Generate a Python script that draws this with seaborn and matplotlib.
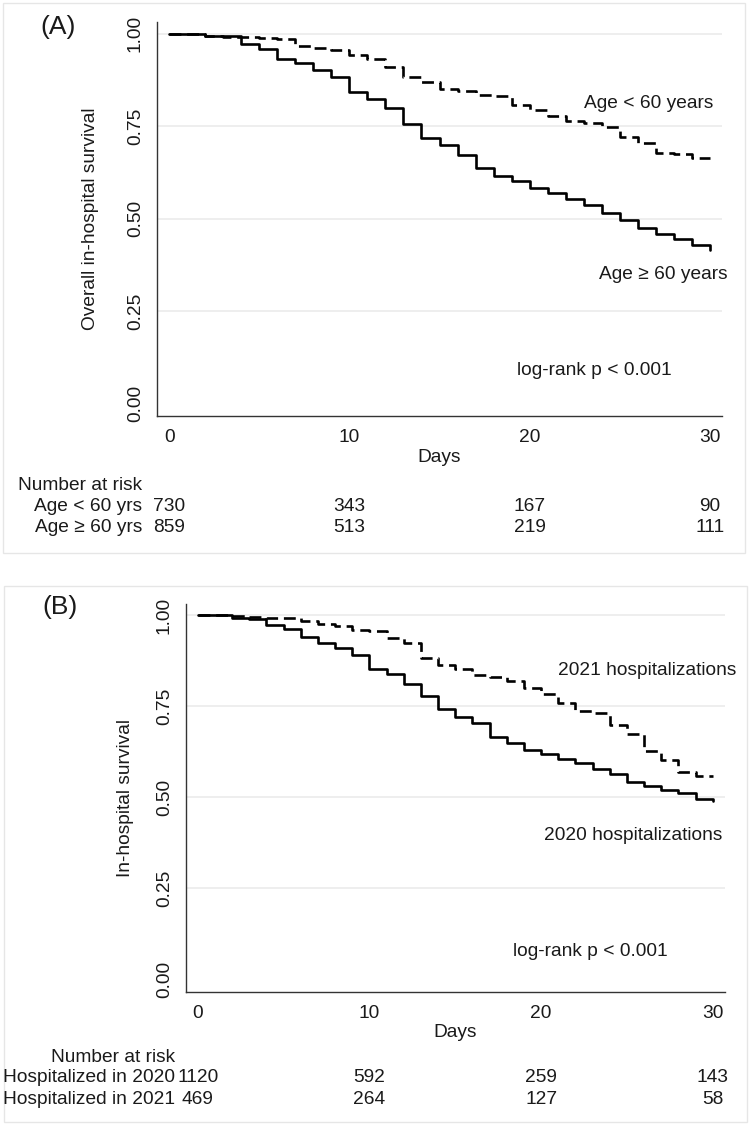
import matplotlib
matplotlib.use("Agg")
import matplotlib.pyplot as plt
import matplotlib.transforms as mtransforms
from matplotlib.patches import Rectangle
import seaborn as sns
import pandas as pd

# Kaplan-Meier estimates, one value per day (step after)
days = list(range(31))

age_lt60 = [1.0, 1.0, 0.993, 0.991, 0.991, 0.988, 0.985, 0.966, 0.962, 0.955, 0.944,
            0.933, 0.911, 0.884, 0.870, 0.850, 0.846, 0.834, 0.831, 0.807, 0.794,
            0.778, 0.765, 0.760, 0.749, 0.722, 0.706, 0.677, 0.675, 0.664, 0.664]
age_ge60 = [1.0, 1.0, 0.994, 0.994, 0.972, 0.960, 0.933, 0.921, 0.903, 0.882, 0.843,
            0.823, 0.800, 0.755, 0.719, 0.700, 0.672, 0.637, 0.617, 0.601, 0.583,
            0.571, 0.554, 0.538, 0.517, 0.497, 0.475, 0.460, 0.445, 0.430, 0.416]

hosp_2021 = [1.0, 1.0, 0.998, 0.996, 0.991, 0.991, 0.985, 0.976, 0.970, 0.960, 0.956,
             0.938, 0.924, 0.882, 0.862, 0.852, 0.836, 0.830, 0.818, 0.800, 0.783,
             0.760, 0.738, 0.732, 0.698, 0.675, 0.627, 0.602, 0.569, 0.558, 0.558]
hosp_2020 = [1.0, 1.0, 0.993, 0.989, 0.974, 0.963, 0.939, 0.924, 0.910, 0.890, 0.853,
             0.838, 0.811, 0.777, 0.742, 0.720, 0.703, 0.666, 0.650, 0.631, 0.618,
             0.606, 0.593, 0.579, 0.565, 0.542, 0.531, 0.519, 0.513, 0.496, 0.489]

risk_days = [0, 10, 20, 30]
risk_a_lt60 = [730, 343, 167, 90]
risk_a_ge60 = [859, 513, 219, 111]
risk_b_2020 = [1120, 592, 259, 143]
risk_b_2021 = [469, 264, 127, 58]

y_ticks = [0.0, 0.25, 0.5, 0.75, 1.0]
x_ticks = [0, 10, 20, 30]

sns.set_theme(style="white")
plt.rcParams["font.family"] = ["Liberation Sans", "DejaVu Sans"]

W, H = 750, 1128
FS = 13.8
TXT = "#1a1a1a"
fig = plt.figure(figsize=(W / 100, H / 100), dpi=100)


def px(x, y):
    return x / W, 1 - y / H


def km_frame(solid, dashed, solid_name, dashed_name):
    return pd.concat([
        pd.DataFrame({"day": days, "surv": solid, "group": solid_name}),
        pd.DataFrame({"day": days, "surv": dashed, "group": dashed_name}),
    ], ignore_index=True)


def panel(rect, df, solid_name, dashed_name, ylabel, ylab_x):
    ax = fig.add_axes(rect)
    for g in [0.25, 0.5, 0.75, 1.0]:
        ax.axhline(g, color="#ebebeb", lw=1.2, zorder=0)
    sns.lineplot(data=df, x="day", y="surv", style="group",
                 dashes={solid_name: "", dashed_name: (4.5, 2.2)},
                 color="black", lw=1.9, drawstyle="steps-post",
                 errorbar=None, legend=False, ax=ax)
    ax.set_xlim(-0.68, 30.68)
    ax.set_ylim(-0.033, 1.032)
    ax.set_xticks(x_ticks)
    ax.set_yticks(y_ticks)
    ax.set_yticklabels([f"{v:.2f}" for v in y_ticks])
    ax.tick_params(axis="both", direction="out", length=6, width=1,
                   color="#333333", labelcolor=TXT, labelsize=FS, pad=3.5)
    ax.tick_params(axis="y", labelrotation=90)
    for lab in ax.get_yticklabels():
        lab.set_va("center")
    for s in ["top", "right"]:
        ax.spines[s].set_visible(False)
    for s in ["left", "bottom"]:
        ax.spines[s].set_color("#333333")
        ax.spines[s].set_linewidth(1)
    ax.set_xlabel("Days", fontsize=FS, color=TXT)
    ax.set_ylabel(ylabel, fontsize=FS, color=TXT)
    ax.xaxis.set_label_coords(0.5, -0.085)
    ax.yaxis.set_label_coords(ylab_x, 0.5)
    ax.set_facecolor("white")
    return ax


def risk_table(ax, label_x, rows, header_y):
    trans = mtransforms.blended_transform_factory(ax.transData, fig.transFigure)
    fig.text(*px(label_x, header_y), "Number at risk", ha="right", va="center",
             fontsize=FS, color=TXT)
    for name, vals, y in rows:
        fig.text(*px(label_x, y), name, ha="right", va="center", fontsize=FS, color=TXT)
        for d, v in zip(risk_days, vals):
            ax.text(d, 1 - y / H, str(v), transform=trans, ha="center", va="center",
                    fontsize=FS, color=TXT)


# panel borders
fig.patches.append(Rectangle(px(3, 553), 742 / W, 550 / H, transform=fig.transFigure,
                             fill=False, ec="#e6e6e6", lw=1))
fig.patches.append(Rectangle(px(4, 1122), 743 / W, 536 / H, transform=fig.transFigure,
                             fill=False, ec="#e6e6e6", lw=1))

# (A) age groups
df_a = km_frame(age_ge60, age_lt60, "Age >= 60", "Age < 60")
ax_a = panel([157 / W, 1 - 416 / H, 565 / W, 394 / H], df_a, "Age >= 60", "Age < 60",
             "Overall in-hospital survival", -0.103)
ax_a.text(26.6, 0.813, "Age < 60 years", ha="center", va="center", fontsize=FS, color=TXT)
ax_a.text(27.4, 0.350, "Age \u2265 60 years", ha="center", va="center", fontsize=FS, color=TXT)
ax_a.text(23.6, 0.089, "log-rank p < 0.001", ha="center", va="center", fontsize=FS, color=TXT)
fig.text(*px(58, 27), "(A)", ha="center", va="center", fontsize=19, color=TXT)
risk_table(ax_a, 142, [("Age < 60 yrs", risk_a_lt60, 506),
                       ("Age \u2265 60 yrs", risk_a_ge60, 528)], 485)

# (B) hospitalization year
df_b = km_frame(hosp_2020, hosp_2021, "2020", "2021")
ax_b = panel([186 / W, 1 - 991.5 / H, 538.5 / W, 388 / H], df_b, "2020", "2021",
             "In-hospital survival", -0.097)
ax_b.text(26.2, 0.847, "2021 hospitalizations", ha="center", va="center", fontsize=FS, color=TXT)
ax_b.text(25.35, 0.395, "2020 hospitalizations", ha="center", va="center", fontsize=FS, color=TXT)
ax_b.text(22.85, 0.078, "log-rank p < 0.001", ha="center", va="center", fontsize=FS, color=TXT)
fig.text(*px(60, 607), "(B)", ha="center", va="center", fontsize=19, color=TXT)
risk_table(ax_b, 175, [("Hospitalized in 2020", risk_b_2020, 1078),
                       ("Hospitalized in 2021", risk_b_2021, 1100)], 1057)

fig.savefig("out.png", dpi=100, facecolor="white")
